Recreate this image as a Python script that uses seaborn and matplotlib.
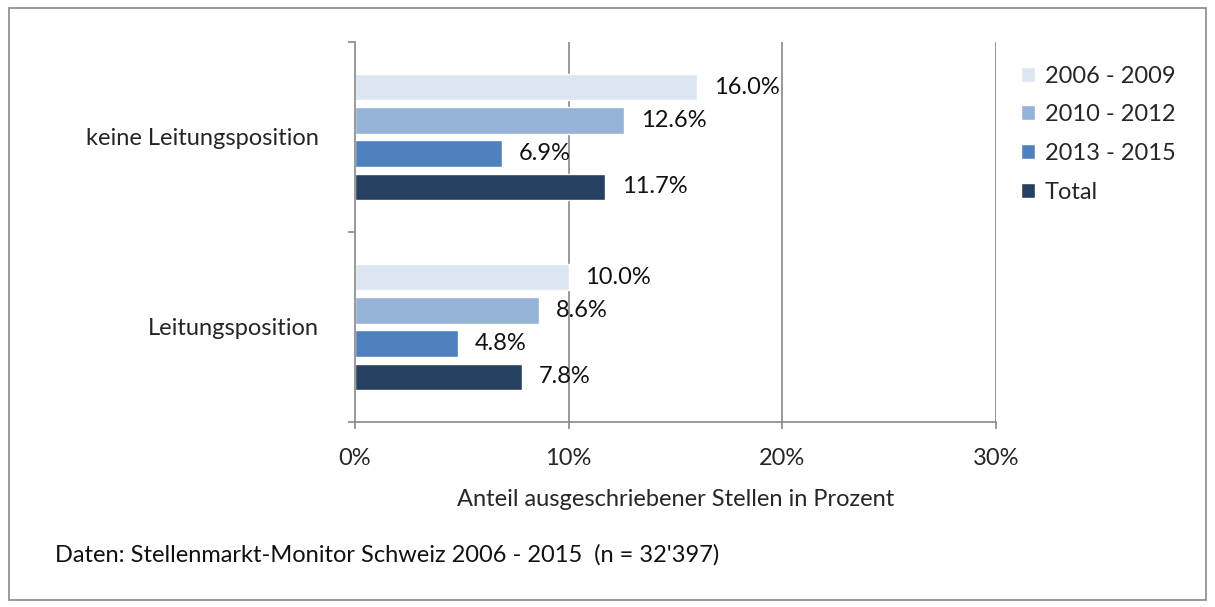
import pandas as pd
import matplotlib.pyplot as plt
import seaborn as sns
from matplotlib.patches import Rectangle

# data
positions = ['keine Leitungsposition', 'Leitungsposition']
periods = ['2006 - 2009', '2010 - 2012', '2013 - 2015', 'Total']
keine_leitung = [16.0, 12.6, 6.9, 11.7]
leitung = [10.0, 8.6, 4.8, 7.8]
colors = ['#DCE6F2', '#95B3D7', '#4F81BD', '#254061']
x_ticks = [0, 10, 20, 30]
source = "Daten: Stellenmarkt-Monitor Schweiz 2006 - 2015  (n = 32'397)"

rows = []
for pos, vals in zip(positions, [keine_leitung, leitung]):
    for per, v in zip(periods, vals):
        rows.append({'Position': pos, 'Periode': per, 'Anteil': v})
df = pd.DataFrame(rows)

sns.set_style('white')
plt.rcParams['font.family'] = ['Lato', 'DejaVu Sans']
fs = 17

fig = plt.figure(figsize=(12.15, 6.07), dpi=100)
ax = fig.add_axes([0.2922, 0.3048, 0.5276, 0.626])

sns.barplot(data=df, x='Anteil', y='Position', hue='Periode', order=positions,
            hue_order=periods, palette=colors, orient='h', width=0.7, gap=0.2,
            saturation=1, legend=True, ax=ax)

for cont in ax.containers:
    ax.bar_label(cont, labels=[f'{v:.1f}%' for v in cont.datavalues],
                 padding=12, fontsize=fs, color='#111111')

ax.set_xlim(0, 30)
ax.set_ylim(1.5, -0.5)
ax.set_xticks(x_ticks)
ax.set_xticklabels([f'{t}%' for t in x_ticks], fontsize=fs)
ax.set_yticks([0, 1])
ax.set_yticklabels(positions, fontsize=fs)
ax.set_yticks([-0.5, 0.5, 1.5], minor=True)
ax.tick_params(axis='y', which='major', left=False, length=0, pad=26)
ax.tick_params(axis='y', which='minor', left=True, length=5, width=1.2,
               color='#888888', direction='out')
ax.tick_params(axis='x', bottom=True, length=5, width=1.2, color='#888888',
               direction='out', pad=14)
ax.set_ylabel('')
ax.set_xlabel('Anteil ausgeschriebener Stellen in Prozent', fontsize=fs, labelpad=14)

for t in x_ticks[1:]:
    ax.axvline(t, color='#888888', lw=1.2, zorder=0)
for side in ['top', 'right']:
    ax.spines[side].set_visible(False)
for side in ['left', 'bottom']:
    ax.spines[side].set_color('#888888')
    ax.spines[side].set_linewidth(1.2)

handles, labels = ax.get_legend_handles_labels()
ax.get_legend().remove()
fig.legend(handles, labels, loc='upper left', bbox_to_anchor=(0.823, 0.927),
           frameon=False, fontsize=fs, handlelength=0.6, handleheight=0.6,
           handletextpad=0.4, labelspacing=0.75)

fig.text(0.045, 0.075, source, fontsize=fs, color='#111111')

fig.patches.append(Rectangle((0.007, 0.012), 0.986, 0.975, transform=fig.transFigure,
                             fill=False, edgecolor='#888888', lw=1.2))

fig.savefig('out.png', dpi=100)
